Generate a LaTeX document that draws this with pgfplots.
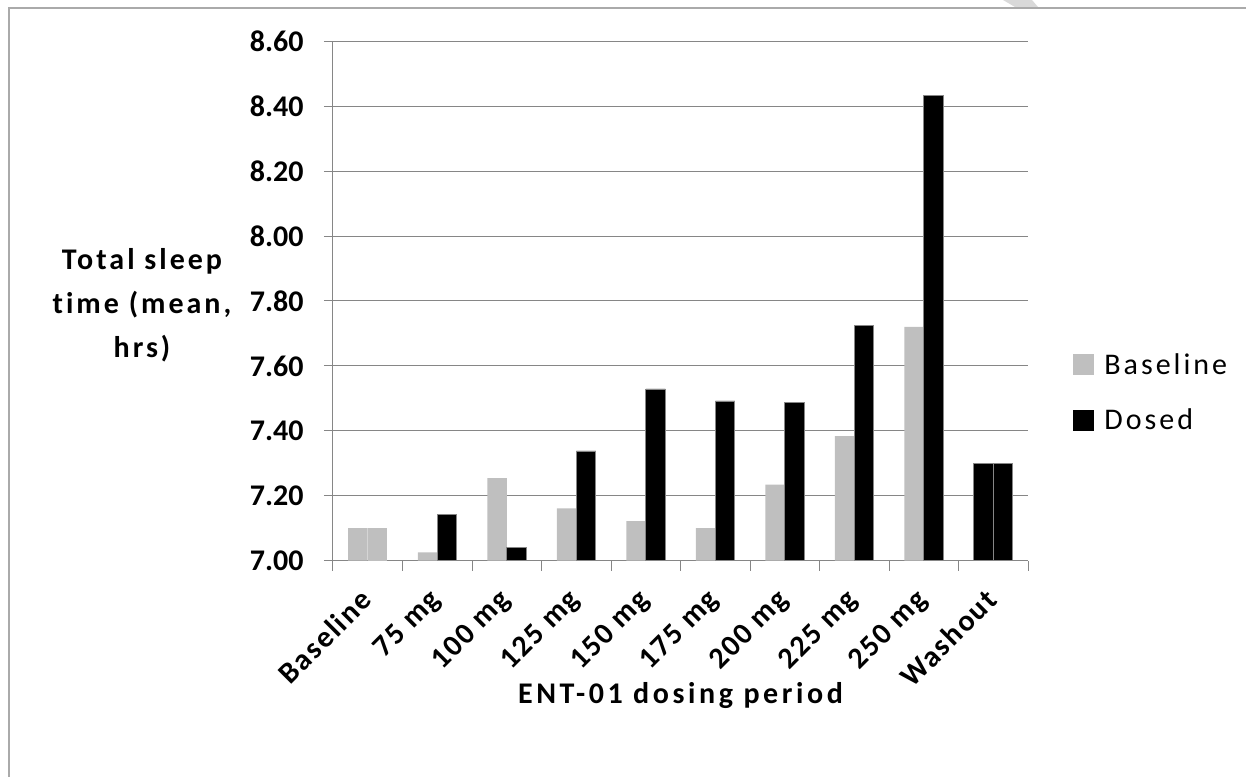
\documentclass[border=0pt]{standalone}
\usepackage{fontspec}
\setmainfont{Carlito}
\newfontfamily\lsfont{Carlito}[LetterSpace=10, Ligatures=NoCommon]
\newfontfamily\lsfontt{Carlito}[LetterSpace=12, Ligatures=NoCommon]
\newfontfamily\lsfontx{Carlito}[LetterSpace=6, Ligatures=NoCommon]
\usepackage{pgfplots}
\pgfplotsset{compat=1.18}
\definecolor{barGray}{RGB}{191,191,191}
\definecolor{axGray}{RGB}{134,134,134}
\definecolor{frameGray}{RGB}{170,170,170}
\definecolor{markGray}{RGB}{217,217,217}
\begin{document}
\begin{tikzpicture}[x=1pt,y=1pt]
\useasboundingbox (-333,-215.3) rectangle (913,560.7);
\fill[markGray] (670,560.7) -- (699,560.7) -- (705,553.7) -- (682,553.7) -- cycle;
\draw[frameGray, line width=1.5pt] (-324,-216) -- (-324,552.7) -- (914,552.7);
\begin{axis}[
  at={(0,0)}, anchor=south west,
  scale only axis, width=695pt, height=519.4pt,
  xmin=-0.5, xmax=9.5, ymin=7, ymax=8.6,
  ytick={7,7.2,7.4,7.6,7.8,8,8.2,8.4,8.6},
  ymajorgrids, grid style={axGray, line width=1pt},
  axis x line*=bottom, axis y line*=left,
  axis line style={axGray, line width=1pt, -},
  tick align=outside, major tick length=9pt, minor tick length=10pt,
  xtick={0,...,9},
  xticklabels={Baseline,75 mg,100 mg,125 mg,150 mg,175 mg,200 mg,225 mg,250 mg,Washout},
  major x tick style={draw=none},
  minor xtick={-0.5,0.5,...,9.5},
  minor x tick style={axGray, line width=1pt},
  ytick style={axGray, line width=1pt},
  /pgf/number format/assume math mode=true,
  y tick label style={font=\fontsize{30}{36}\selectfont\bfseries, xshift=-17pt,
    /pgf/number format/.cd, fixed, fixed zerofill, precision=2},
  x tick label style={font=\lsfontx\fontsize{30}{36}\selectfont\bfseries, rotate=45, anchor=north east, xshift=-17.8pt, yshift=-4.8pt, inner sep=1pt},
  xlabel={ENT-01 dosing period},
  xlabel style={font=\lsfontt\fontsize{30}{36}\selectfont\bfseries, at={(axis description cs:0.5,-0.2586)}, anchor=center},
  ylabel={Total sleep\\time (mean,\\hrs)},
  ylabel style={font=\lsfont\fontsize{30}{44}\selectfont\bfseries, rotate=-90, align=center, at={(axis description cs:-0.2748,0.4913)}, anchor=center},
  legend style={draw=none, fill=none, at={(axis description cs:1.065,0.324)}, anchor=west,
    font=\lsfont\fontsize{30}{36}\selectfont, row sep=33pt, inner sep=0pt,
    nodes={inner sep=0pt},
    /tikz/every odd column/.style={column sep=10pt}},
  legend cell align=left,
  legend image code/.code={\fill[#1, draw=none] (0pt,-10.5pt) rectangle (21pt,10.5pt);},
  clip=true,
]
\addplot[ybar, bar width=19.5pt, bar shift=-9.75pt, fill=barGray, draw=none]
  coordinates {(0,7.10) (1,7.026) (2,7.254) (3,7.161) (4,7.122) (5,7.10) (6,7.234) (7,7.384) (8,7.72)};
\addlegendentry{Baseline}
\addplot[ybar, bar width=19.5pt, bar shift=9.75pt, fill=black, draw=axGray, line width=0.6pt]
  coordinates {(1,7.143) (2,7.041) (3,7.338) (4,7.529) (5,7.492) (6,7.488) (7,7.725) (8,8.433) (9,7.30)};
\addlegendentry{Dosed}
\addplot[ybar, bar width=19.5pt, bar shift=9.75pt, fill=barGray, draw=none, forget plot]
  coordinates {(0,7.10)};
\addplot[ybar, bar width=19.5pt, bar shift=-9.75pt, fill=black, draw=axGray, line width=0.6pt, forget plot]
  coordinates {(9,7.30)};
\end{axis}
\end{tikzpicture}
\end{document}
